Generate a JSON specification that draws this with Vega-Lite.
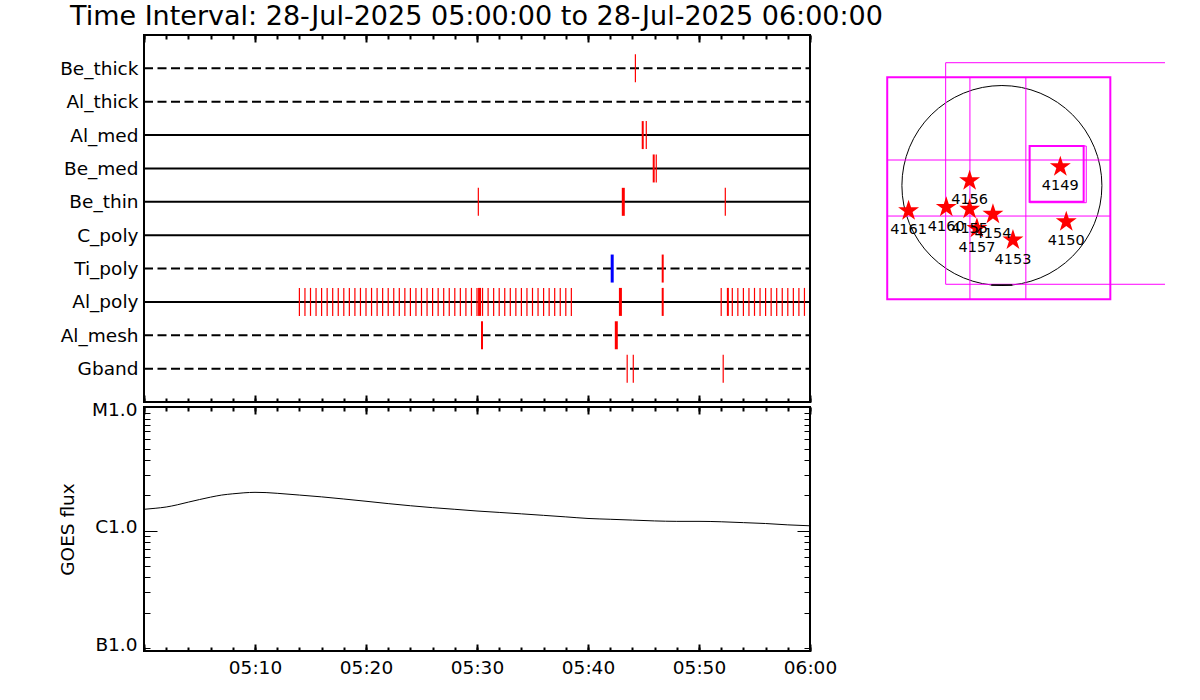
{
  "$schema": "https://vega.github.io/schema/vega-lite/v6.json",
  "background": "white",
  "padding": {"left": 56, "top": 2, "right": 5, "bottom": 5},
  "spacing": 0,
  "config": {
    "font": "DejaVu Sans",
    "view": {"stroke": "black", "strokeWidth": 2},
    "axis": {"labelFont": "DejaVu Sans", "titleFont": "DejaVu Sans", "labelColor": "black", "titleColor": "black", "tickColor": "black", "grid": false, "domain": false, "labelFontSize": 18.5, "titleFontSize": 18.5, "titleFontWeight": "normal", "labelOverlap": false, "labelFlush": false}
  },
  "datasets": {
    "rows": [
      {"filter": "Be_thick", "style": "dashed", "start": 0, "end": 60},
      {"filter": "Al_thick", "style": "dashed", "start": 0, "end": 60},
      {"filter": "Al_med", "style": "solid", "start": 0, "end": 60},
      {"filter": "Be_med", "style": "solid", "start": 0, "end": 60},
      {"filter": "Be_thin", "style": "solid", "start": 0, "end": 60},
      {"filter": "C_poly", "style": "solid", "start": 0, "end": 60},
      {"filter": "Ti_poly", "style": "dashed", "start": 0, "end": 60},
      {"filter": "Al_poly", "style": "solid", "start": 0, "end": 60},
      {"filter": "Al_mesh", "style": "dashed", "start": 0, "end": 60},
      {"filter": "Gband", "style": "dashed", "start": 0, "end": 60}
    ],
    "obs": [
      {"filter": "Be_thick", "minute": 44.27, "kind": "thin"},
      {"filter": "Al_med", "minute": 44.93, "kind": "med"},
      {"filter": "Al_med", "minute": 45.25, "kind": "thin"},
      {"filter": "Be_med", "minute": 45.92, "kind": "med"},
      {"filter": "Be_med", "minute": 46.15, "kind": "thin"},
      {"filter": "Be_thin", "minute": 30.12, "kind": "thin"},
      {"filter": "Be_thin", "minute": 43.18, "kind": "thick"},
      {"filter": "Be_thin", "minute": 52.37, "kind": "thin"},
      {"filter": "Ti_poly", "minute": 42.18, "kind": "blue"},
      {"filter": "Ti_poly", "minute": 46.73, "kind": "med"},
      {"filter": "Al_poly", "minute": 14.0, "kind": "thin"},
      {"filter": "Al_poly", "minute": 14.5, "kind": "thin"},
      {"filter": "Al_poly", "minute": 15.0, "kind": "thin"},
      {"filter": "Al_poly", "minute": 15.5, "kind": "thin"},
      {"filter": "Al_poly", "minute": 16.0, "kind": "thin"},
      {"filter": "Al_poly", "minute": 16.5, "kind": "thin"},
      {"filter": "Al_poly", "minute": 17.0, "kind": "thin"},
      {"filter": "Al_poly", "minute": 17.5, "kind": "thin"},
      {"filter": "Al_poly", "minute": 18.0, "kind": "thin"},
      {"filter": "Al_poly", "minute": 18.5, "kind": "thin"},
      {"filter": "Al_poly", "minute": 19.0, "kind": "thin"},
      {"filter": "Al_poly", "minute": 19.5, "kind": "thin"},
      {"filter": "Al_poly", "minute": 20.0, "kind": "thin"},
      {"filter": "Al_poly", "minute": 20.5, "kind": "thin"},
      {"filter": "Al_poly", "minute": 21.0, "kind": "thin"},
      {"filter": "Al_poly", "minute": 21.5, "kind": "thin"},
      {"filter": "Al_poly", "minute": 22.0, "kind": "thin"},
      {"filter": "Al_poly", "minute": 22.5, "kind": "thin"},
      {"filter": "Al_poly", "minute": 23.0, "kind": "thin"},
      {"filter": "Al_poly", "minute": 23.5, "kind": "thin"},
      {"filter": "Al_poly", "minute": 24.0, "kind": "thin"},
      {"filter": "Al_poly", "minute": 24.5, "kind": "thin"},
      {"filter": "Al_poly", "minute": 25.0, "kind": "thin"},
      {"filter": "Al_poly", "minute": 25.5, "kind": "thin"},
      {"filter": "Al_poly", "minute": 26.0, "kind": "thin"},
      {"filter": "Al_poly", "minute": 26.5, "kind": "thin"},
      {"filter": "Al_poly", "minute": 27.0, "kind": "thin"},
      {"filter": "Al_poly", "minute": 27.5, "kind": "thin"},
      {"filter": "Al_poly", "minute": 28.0, "kind": "thin"},
      {"filter": "Al_poly", "minute": 28.5, "kind": "thin"},
      {"filter": "Al_poly", "minute": 29.0, "kind": "thin"},
      {"filter": "Al_poly", "minute": 29.5, "kind": "thin"},
      {"filter": "Al_poly", "minute": 30.0, "kind": "thin"},
      {"filter": "Al_poly", "minute": 30.23, "kind": "thick"},
      {"filter": "Al_poly", "minute": 30.5, "kind": "thin"},
      {"filter": "Al_poly", "minute": 31.0, "kind": "thin"},
      {"filter": "Al_poly", "minute": 31.5, "kind": "thin"},
      {"filter": "Al_poly", "minute": 32.0, "kind": "thin"},
      {"filter": "Al_poly", "minute": 32.5, "kind": "thin"},
      {"filter": "Al_poly", "minute": 33.0, "kind": "thin"},
      {"filter": "Al_poly", "minute": 33.5, "kind": "thin"},
      {"filter": "Al_poly", "minute": 34.0, "kind": "thin"},
      {"filter": "Al_poly", "minute": 34.5, "kind": "thin"},
      {"filter": "Al_poly", "minute": 35.0, "kind": "thin"},
      {"filter": "Al_poly", "minute": 35.5, "kind": "thin"},
      {"filter": "Al_poly", "minute": 36.0, "kind": "thin"},
      {"filter": "Al_poly", "minute": 36.5, "kind": "thin"},
      {"filter": "Al_poly", "minute": 37.0, "kind": "thin"},
      {"filter": "Al_poly", "minute": 37.5, "kind": "thin"},
      {"filter": "Al_poly", "minute": 38.0, "kind": "thin"},
      {"filter": "Al_poly", "minute": 38.5, "kind": "thin"},
      {"filter": "Al_poly", "minute": 42.92, "kind": "thick"},
      {"filter": "Al_poly", "minute": 46.73, "kind": "med"},
      {"filter": "Al_poly", "minute": 52.0, "kind": "thin"},
      {"filter": "Al_poly", "minute": 52.6, "kind": "med"},
      {"filter": "Al_poly", "minute": 53.0, "kind": "thin"},
      {"filter": "Al_poly", "minute": 53.5, "kind": "thin"},
      {"filter": "Al_poly", "minute": 54.0, "kind": "thin"},
      {"filter": "Al_poly", "minute": 54.5, "kind": "thin"},
      {"filter": "Al_poly", "minute": 55.0, "kind": "thin"},
      {"filter": "Al_poly", "minute": 55.5, "kind": "thin"},
      {"filter": "Al_poly", "minute": 56.0, "kind": "thin"},
      {"filter": "Al_poly", "minute": 56.5, "kind": "thin"},
      {"filter": "Al_poly", "minute": 57.0, "kind": "thin"},
      {"filter": "Al_poly", "minute": 57.5, "kind": "thin"},
      {"filter": "Al_poly", "minute": 58.0, "kind": "thin"},
      {"filter": "Al_poly", "minute": 58.5, "kind": "thin"},
      {"filter": "Al_poly", "minute": 59.0, "kind": "thin"},
      {"filter": "Al_poly", "minute": 59.5, "kind": "thin"},
      {"filter": "Al_mesh", "minute": 30.45, "kind": "med"},
      {"filter": "Al_mesh", "minute": 42.55, "kind": "thick"},
      {"filter": "Gband", "minute": 43.53, "kind": "thin"},
      {"filter": "Gband", "minute": 44.08, "kind": "thin"},
      {"filter": "Gband", "minute": 52.18, "kind": "thin"}
    ],
    "goes": [
      {"minute": 0, "flux": 1.52e-6},
      {"minute": 1, "flux": 1.55e-6},
      {"minute": 2, "flux": 1.59e-6},
      {"minute": 3, "flux": 1.66e-6},
      {"minute": 4, "flux": 1.75e-6},
      {"minute": 5, "flux": 1.84e-6},
      {"minute": 6, "flux": 1.93e-6},
      {"minute": 7, "flux": 2.01e-6},
      {"minute": 8, "flux": 2.06e-6},
      {"minute": 9, "flux": 2.10e-6},
      {"minute": 10, "flux": 2.12e-6},
      {"minute": 11, "flux": 2.11e-6},
      {"minute": 12, "flux": 2.08e-6},
      {"minute": 14, "flux": 2.01e-6},
      {"minute": 16, "flux": 1.94e-6},
      {"minute": 18, "flux": 1.86e-6},
      {"minute": 20, "flux": 1.78e-6},
      {"minute": 22, "flux": 1.70e-6},
      {"minute": 24, "flux": 1.63e-6},
      {"minute": 26, "flux": 1.57e-6},
      {"minute": 28, "flux": 1.52e-6},
      {"minute": 30, "flux": 1.47e-6},
      {"minute": 32, "flux": 1.43e-6},
      {"minute": 34, "flux": 1.39e-6},
      {"minute": 36, "flux": 1.35e-6},
      {"minute": 38, "flux": 1.31e-6},
      {"minute": 40, "flux": 1.27e-6},
      {"minute": 42, "flux": 1.25e-6},
      {"minute": 44, "flux": 1.23e-6},
      {"minute": 46, "flux": 1.21e-6},
      {"minute": 48, "flux": 1.20e-6},
      {"minute": 50, "flux": 1.20e-6},
      {"minute": 52, "flux": 1.19e-6},
      {"minute": 54, "flux": 1.17e-6},
      {"minute": 56, "flux": 1.15e-6},
      {"minute": 58, "flux": 1.12e-6},
      {"minute": 60, "flux": 1.10e-6}
    ],
    "disk": [{"x": 0, "y": 0}],
    "boxes": [
      {"name": "fov1", "x": -1101, "x2": 1041, "y": 1039, "y2": -1092, "kind": "thick"},
      {"name": "fov2", "x": -540, "x2": 2000, "y": 1179, "y2": -948, "kind": "thin"},
      {"name": "ar4149a", "x": 266, "x2": 785, "y": 379, "y2": -156, "kind": "thick"},
      {"name": "ar4149b", "x": 266, "x2": 810, "y": 379, "y2": -165, "kind": "thin"}
    ],
    "segments": [
      {"x": -307, "x2": -307, "y": 1039, "y2": -1092, "color": "magenta"},
      {"x": 230, "x2": 230, "y": 1039, "y2": -1092, "color": "magenta"},
      {"x": -1101, "x2": 1041, "y": 245, "y2": 245, "color": "magenta"},
      {"x": -1101, "x2": 1041, "y": -293, "y2": -293, "color": "magenta"},
      {"x": -102, "x2": 100, "y": -955, "y2": -955, "color": "black"}
    ],
    "regions": [
      {"ar": "4149", "x": 561, "y": 180},
      {"ar": "4156", "x": -310, "y": 46},
      {"ar": "4161", "x": -896, "y": -242},
      {"ar": "4160", "x": -534, "y": -209},
      {"ar": "4155", "x": -310, "y": -228},
      {"ar": "4157", "x": -240, "y": -411},
      {"ar": "4154", "x": -86, "y": -276},
      {"ar": "4153", "x": 106, "y": -523},
      {"ar": "4150", "x": 618, "y": -348}
    ]
  },
  "hconcat": [
    {
      "vconcat": [
        {
          "width": 666,
          "height": 367,
          "title": {"text": "Time Interval: 28-Jul-2025 05:00:00 to 28-Jul-2025 06:00:00", "anchor": "start", "frame": "group", "dx": -74, "offset": 3, "fontSize": 27, "font": "DejaVu Sans", "fontWeight": "normal", "color": "black"},
          "layer": [
            {
              "data": {"name": "rows"},
              "transform": [{"filter": "datum.style == 'solid'"}],
              "mark": {"type": "rule", "strokeWidth": 2, "color": "black"},
              "encoding": {
                "x": {"field": "start", "type": "quantitative", "scale": {"domain": [0, 60], "nice": false, "zero": false},
                      "axis": {"orient": "top", "labels": false, "title": null, "values": [0, 10, 20, 30, 40, 50, 60], "tickWidth": 2, "tickSize": -7}},
                "x2": {"field": "end"},
                "y": {"field": "filter", "type": "nominal", "scale": {"type": "point", "padding": 1, "domain": ["Be_thick", "Al_thick", "Al_med", "Be_med", "Be_thin", "C_poly", "Ti_poly", "Al_poly", "Al_mesh", "Gband"]},
                      "axis": {"orient": "left", "ticks": false, "tickSize": 0, "labelPadding": 6, "title": null}}
              }
            },
            {
              "data": {"name": "rows"},
              "transform": [{"filter": "datum.style == 'dashed'"}],
              "mark": {"type": "rule", "strokeWidth": 2, "color": "black", "strokeDash": [9, 4.5]},
              "encoding": {
                "x": {"field": "start", "type": "quantitative", "scale": {"domain": [0, 60], "nice": false, "zero": false},
                      "axis": {"orient": "top", "labels": false, "title": null, "values": [0, 2, 4, 6, 8, 10, 12, 14, 16, 18, 20, 22, 24, 26, 28, 30, 32, 34, 36, 38, 40, 42, 44, 46, 48, 50, 52, 54, 56, 58, 60], "tickWidth": 2, "tickSize": -4}},
                "x2": {"field": "end"},
                "y": {"field": "filter", "type": "nominal", "scale": {"type": "point", "padding": 1, "domain": ["Be_thick", "Al_thick", "Al_med", "Be_med", "Be_thin", "C_poly", "Ti_poly", "Al_poly", "Al_mesh", "Gband"]}, "axis": null}
              }
            },
            {
              "data": {"name": "obs"},
              "transform": [{"filter": "datum.kind == 'thin'"}],
              "mark": {"type": "tick", "size": 28, "thickness": 1.2, "color": "#ff0000", "opacity": 1},
              "encoding": {
                "x": {"field": "minute", "type": "quantitative", "scale": {"domain": [0, 60], "nice": false, "zero": false},
                      "axis": {"orient": "bottom", "labels": false, "title": null, "values": [0, 10, 20, 30, 40, 50, 60], "tickWidth": 2, "tickSize": -7}},
                "y": {"field": "filter", "type": "nominal", "scale": {"type": "point", "padding": 1, "domain": ["Be_thick", "Al_thick", "Al_med", "Be_med", "Be_thin", "C_poly", "Ti_poly", "Al_poly", "Al_mesh", "Gband"]}, "axis": null}
              }
            },
            {
              "data": {"name": "obs"},
              "transform": [{"filter": "datum.kind == 'med'"}],
              "mark": {"type": "tick", "size": 28, "thickness": 2, "color": "#ff0000", "opacity": 1},
              "encoding": {
                "x": {"field": "minute", "type": "quantitative", "scale": {"domain": [0, 60], "nice": false, "zero": false},
                      "axis": {"orient": "bottom", "labels": false, "title": null, "values": [0, 2, 4, 6, 8, 10, 12, 14, 16, 18, 20, 22, 24, 26, 28, 30, 32, 34, 36, 38, 40, 42, 44, 46, 48, 50, 52, 54, 56, 58, 60], "tickWidth": 2, "tickSize": -4}},
                "y": {"field": "filter", "type": "nominal", "scale": {"type": "point", "padding": 1, "domain": ["Be_thick", "Al_thick", "Al_med", "Be_med", "Be_thin", "C_poly", "Ti_poly", "Al_poly", "Al_mesh", "Gband"]}, "axis": null}
              }
            },
            {
              "data": {"name": "obs"},
              "transform": [{"filter": "datum.kind == 'thick'"}],
              "mark": {"type": "tick", "size": 28, "thickness": 3, "color": "#ff0000", "opacity": 1},
              "encoding": {
                "x": {"field": "minute", "type": "quantitative", "scale": {"domain": [0, 60], "nice": false, "zero": false}, "axis": null},
                "y": {"field": "filter", "type": "nominal", "scale": {"type": "point", "padding": 1, "domain": ["Be_thick", "Al_thick", "Al_med", "Be_med", "Be_thin", "C_poly", "Ti_poly", "Al_poly", "Al_mesh", "Gband"]}, "axis": null}
              }
            },
            {
              "data": {"name": "obs"},
              "transform": [{"filter": "datum.kind == 'blue'"}],
              "mark": {"type": "tick", "size": 28, "thickness": 3, "color": "#0000ff", "opacity": 1},
              "encoding": {
                "x": {"field": "minute", "type": "quantitative", "scale": {"domain": [0, 60], "nice": false, "zero": false}, "axis": null},
                "y": {"field": "filter", "type": "nominal", "scale": {"type": "point", "padding": 1, "domain": ["Be_thick", "Al_thick", "Al_med", "Be_med", "Be_thin", "C_poly", "Ti_poly", "Al_poly", "Al_mesh", "Gband"]}, "axis": null}
              }
            }
          ],
          "resolve": {"axis": {"x": "independent", "y": "independent"}}
        },
        {
          "width": 666,
          "height": 244,
          "data": {"name": "goes"},
          "layer": [
            {
              "mark": {"type": "line", "color": "black", "strokeWidth": 1, "interpolate": "monotone"},
              "encoding": {
                "x": {"field": "minute", "type": "quantitative", "scale": {"domain": [0, 60], "nice": false, "zero": false},
                      "axis": {"orient": "top", "labels": false, "title": null, "values": [0, 10, 20, 30, 40, 50, 60], "tickWidth": 2, "tickSize": -7}},
                "y": {"field": "flux", "type": "quantitative", "scale": {"type": "log", "domain": [9.43e-8, 1.131e-5], "nice": false},
                      "axis": {"orient": "left", "values": [1e-7, 1e-6, 1e-5], "ticks": false, "tickSize": 0, "labelPadding": 7, "labelOffset": -4, "labelExpr": "datum.value > 5e-6 ? 'M1.0' : datum.value > 5e-7 ? 'C1.0' : 'B1.0'", "labelBaseline": "middle", "title": "GOES flux", "titleX": -77, "titleBaseline": "middle"}}
              }
            },
            {
              "mark": {"type": "line", "opacity": 0},
              "encoding": {
                "x": {"field": "minute", "type": "quantitative", "scale": {"domain": [0, 60], "nice": false, "zero": false},
                      "axis": {"orient": "top", "labels": false, "title": null, "values": [0, 2, 4, 6, 8, 10, 12, 14, 16, 18, 20, 22, 24, 26, 28, 30, 32, 34, 36, 38, 40, 42, 44, 46, 48, 50, 52, 54, 56, 58, 60], "tickWidth": 2, "tickSize": -4}},
                "y": {"field": "flux", "type": "quantitative", "scale": {"type": "log", "domain": [9.43e-8, 1.131e-5], "nice": false},
                      "axis": {"orient": "left", "values": [1e-7, 2e-7, 3e-7, 4e-7, 5e-7, 6e-7, 7e-7, 8e-7, 9e-7, 2e-6, 3e-6, 4e-6, 5e-6, 6e-6, 7e-6, 8e-6, 9e-6, 1e-5], "tickWidth": 1, "tickSize": -6, "labels": false, "title": null}}
              }
            },
            {
              "mark": {"type": "line", "opacity": 0},
              "encoding": {
                "x": {"field": "minute", "type": "quantitative", "scale": {"domain": [0, 60], "nice": false, "zero": false},
                      "axis": {"orient": "bottom", "title": null, "values": [0, 10, 20, 30, 40, 50, 60], "tickWidth": 2, "tickSize": -7, "labelPadding": 14, "labelExpr": "datum.value == 0 ? '' : datum.value == 60 ? '06:00' : '05:' + datum.value"}},
                "y": {"field": "flux", "type": "quantitative", "scale": {"type": "log", "domain": [9.43e-8, 1.131e-5], "nice": false},
                      "axis": {"orient": "left", "values": [1e-6], "tickWidth": 1, "tickSize": -13, "labels": false, "title": null}}
              }
            },
            {
              "mark": {"type": "line", "opacity": 0},
              "encoding": {
                "x": {"field": "minute", "type": "quantitative", "scale": {"domain": [0, 60], "nice": false, "zero": false},
                      "axis": {"orient": "bottom", "labels": false, "title": null, "values": [0, 2, 4, 6, 8, 10, 12, 14, 16, 18, 20, 22, 24, 26, 28, 30, 32, 34, 36, 38, 40, 42, 44, 46, 48, 50, 52, 54, 56, 58, 60], "tickWidth": 2, "tickSize": -4}},
                "y": {"field": "flux", "type": "quantitative", "scale": {"type": "log", "domain": [9.43e-8, 1.131e-5], "nice": false},
                      "axis": {"orient": "right", "values": [1e-7, 2e-7, 3e-7, 4e-7, 5e-7, 6e-7, 7e-7, 8e-7, 9e-7, 2e-6, 3e-6, 4e-6, 5e-6, 6e-6, 7e-6, 8e-6, 9e-6, 1e-5], "tickWidth": 1, "tickSize": -6, "labels": false, "title": null}}
              }
            },
            {
              "mark": {"type": "line", "opacity": 0},
              "encoding": {
                "x": {"field": "minute", "type": "quantitative", "scale": {"domain": [0, 60], "nice": false, "zero": false}, "axis": null},
                "y": {"field": "flux", "type": "quantitative", "scale": {"type": "log", "domain": [9.43e-8, 1.131e-5], "nice": false},
                      "axis": {"orient": "right", "values": [1e-6], "tickWidth": 1, "tickSize": -13, "labels": false, "title": null}}
              }
            }
          ],
          "resolve": {"axis": {"x": "independent", "y": "independent"}}
        }
      ],
      "spacing": -5
    },
    {
      "width": 281,
      "height": 300,
      "view": {"stroke": null},
      "layer": [
        {
          "data": {"name": "disk"},
          "mark": {"type": "point", "shape": "circle", "size": 40000, "filled": false, "color": "black", "strokeWidth": 1, "opacity": 1},
          "encoding": {
            "x": {"field": "x", "type": "quantitative", "scale": {"domain": [-1132, 1566], "nice": false, "zero": false}, "axis": null},
            "y": {"field": "y", "type": "quantitative", "scale": {"domain": [-1435, 1445], "nice": false, "zero": false}, "axis": null}
          }
        },
        {
          "data": {"name": "boxes"},
          "transform": [{"filter": "datum.kind == 'thick'"}],
          "mark": {"type": "rect", "filled": false, "color": "#ff00ff", "strokeWidth": 2, "clip": true},
          "encoding": {
            "x": {"field": "x", "type": "quantitative", "scale": {"domain": [-1132, 1566], "nice": false, "zero": false}, "axis": null},
            "x2": {"field": "x2"},
            "y": {"field": "y", "type": "quantitative", "scale": {"domain": [-1435, 1445], "nice": false, "zero": false}, "axis": null},
            "y2": {"field": "y2"}
          }
        },
        {
          "data": {"name": "boxes"},
          "transform": [{"filter": "datum.kind == 'thin'"}],
          "mark": {"type": "rect", "filled": false, "color": "#ff00ff", "strokeWidth": 1, "clip": true},
          "encoding": {
            "x": {"field": "x", "type": "quantitative", "scale": {"domain": [-1132, 1566], "nice": false, "zero": false}, "axis": null},
            "x2": {"field": "x2"},
            "y": {"field": "y", "type": "quantitative", "scale": {"domain": [-1435, 1445], "nice": false, "zero": false}, "axis": null},
            "y2": {"field": "y2"}
          }
        },
        {
          "data": {"name": "segments"},
          "transform": [{"filter": "datum.color == 'magenta'"}],
          "mark": {"type": "rule", "color": "#ff00ff", "strokeWidth": 1, "clip": true},
          "encoding": {
            "x": {"field": "x", "type": "quantitative", "scale": {"domain": [-1132, 1566], "nice": false, "zero": false}, "axis": null},
            "x2": {"field": "x2"},
            "y": {"field": "y", "type": "quantitative", "scale": {"domain": [-1435, 1445], "nice": false, "zero": false}, "axis": null},
            "y2": {"field": "y2"}
          }
        },
        {
          "data": {"name": "segments"},
          "transform": [{"filter": "datum.color == 'black'"}],
          "mark": {"type": "rule", "color": "black", "strokeWidth": 1.5, "clip": true},
          "encoding": {
            "x": {"field": "x", "type": "quantitative", "scale": {"domain": [-1132, 1566], "nice": false, "zero": false}, "axis": null},
            "x2": {"field": "x2"},
            "y": {"field": "y", "type": "quantitative", "scale": {"domain": [-1435, 1445], "nice": false, "zero": false}, "axis": null},
            "y2": {"field": "y2"}
          }
        },
        {
          "data": {"name": "regions"},
          "mark": {"type": "point", "shape": "M0,-1L0.2245,-0.309L0.9511,-0.309L0.3633,0.118L0.5878,0.809L0,0.382L-0.5878,0.809L-0.3633,0.118L-0.9511,-0.309L-0.2245,-0.309Z", "size": 484, "filled": true, "color": "#ff0000", "opacity": 1, "strokeWidth": 0},
          "encoding": {
            "x": {"field": "x", "type": "quantitative", "scale": {"domain": [-1132, 1566], "nice": false, "zero": false}, "axis": null},
            "y": {"field": "y", "type": "quantitative", "scale": {"domain": [-1435, 1445], "nice": false, "zero": false}, "axis": null}
          }
        },
        {
          "data": {"name": "regions"},
          "mark": {"type": "text", "dy": 19.5, "fontSize": 14.5, "font": "DejaVu Sans", "color": "black", "align": "center", "baseline": "middle"},
          "encoding": {
            "x": {"field": "x", "type": "quantitative", "scale": {"domain": [-1132, 1566], "nice": false, "zero": false}, "axis": null},
            "y": {"field": "y", "type": "quantitative", "scale": {"domain": [-1435, 1445], "nice": false, "zero": false}, "axis": null},
            "text": {"field": "ar", "type": "nominal"}
          }
        }
      ]
    }
  ]
}
